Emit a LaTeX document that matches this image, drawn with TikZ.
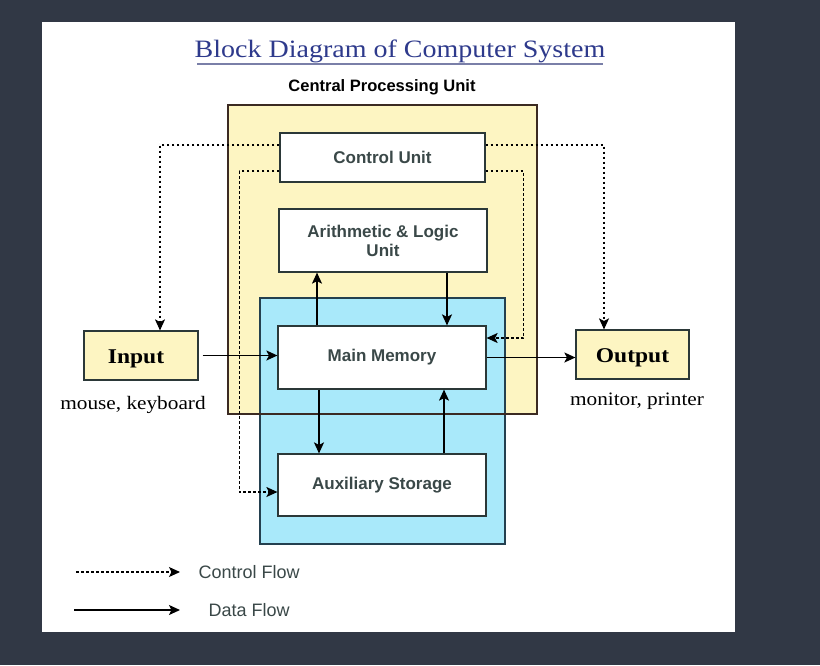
\documentclass[tikz,border=0pt]{standalone}
\usepackage{fontspec}
\setmainfont{Liberation Serif}[FakeStretch=1.12]
\setsansfont{Liberation Sans}
\usepackage{xcolor}
\usetikzlibrary{arrows.meta}

\definecolor{bgdark}{HTML}{313845}
\definecolor{titleblue}{HTML}{2E3A8C}
\definecolor{ruleblue}{HTML}{7A7FA8}
\definecolor{cpuyellow}{HTML}{FDF5C2}
\definecolor{cpuframe}{HTML}{3B2A22}
\definecolor{memblue}{HTML}{A9E9FA}
\definecolor{memframe}{HTML}{24404F}
\definecolor{boxframe}{HTML}{2B3838}
\definecolor{labelgray}{HTML}{3A4848}

\tikzset{
  unit/.style={draw=boxframe, line width=1.2pt, fill=white, inner sep=0pt,
    font=\sffamily\bfseries\fontsize{17}{19}\selectfont, text=labelgray, align=center},
  device/.style={draw=boxframe, line width=1.2pt, fill=cpuyellow, inner sep=0pt,
    font=\bfseries\fontsize{21}{24}\selectfont, text=black},
  ctrl/.style={line width=1.1pt, dash pattern=on 2.6pt off 2.4pt, -{Stealth[length=11pt,width=10pt,inset=2.5pt]}},
  data/.style={line width=1.3pt, -{Stealth[length=11pt,width=10pt,inset=2.5pt]}},
  note/.style={font=\fontsize{19}{22}\selectfont, text=black},
  legend/.style={font=\sffamily\fontsize{18}{21}\selectfont, text=labelgray, anchor=west}
}

\begin{document}
\begin{tikzpicture}[x=1pt, y=-1pt]
  \useasboundingbox (0,0) rectangle (820,665);
  \fill[bgdark] (0,0) rectangle (820,665);
  \fill[white] (42,22) rectangle (735,632);

  % title
  \node[font=\fontsize{25}{28}\selectfont, text=titleblue] (title) at (400,51) {Block Diagram of Computer System};
  \draw[ruleblue, line width=1.2pt] (197,64) -- (603,64);
  \node[font=\sffamily\bfseries\fontsize{16.5}{19}\selectfont] (cpulabel) at (382,87) {Central Processing Unit};

  % CPU and memory frames
  \fill[cpuyellow] (228,105) rectangle (537,414);
  \fill[memblue] (260,298) rectangle (505,544);
  \draw[memframe, line width=1.6pt] (260,298) rectangle (505,544);
  \draw[cpuframe, line width=1.8pt] (228,105) rectangle (537,414);

  % units
  \node[unit, minimum width=205pt, minimum height=49pt] (cu) at (382.5,157.5) {Control Unit};
  \node[unit, minimum width=208pt, minimum height=63pt] (alu) at (383,240.5) {Arithmetic \& Logic\\Unit};
  \node[unit, minimum width=208pt, minimum height=63pt] (mm) at (382,357.5) {Main Memory};
  \node[unit, minimum width=208pt, minimum height=62pt] (aux) at (382,485) {Auxiliary Storage};

  % input and output
  \node[device, minimum width=114pt, minimum height=49pt] (in) at (141,355.5) {\raisebox{-3pt}[\height][\depth]{\hspace*{-10pt}Input}};
  \node[device, minimum width=113pt, minimum height=49pt] (out) at (632.5,354.5) {\raisebox{-3pt}[\height][\depth]{Output}};
  \node[note] (inlabel) at (133,405) {mouse, keyboard};
  \node[note] (outlabel) at (637,401) {monitor, printer};

  % control flow
  \draw[ctrl] ([yshift=12.5pt]cu.west) -| ([xshift=19pt]in.north);
  \draw[ctrl] ([yshift=12.5pt]cu.east) -| ([xshift=-28.5pt]out.north);
  \draw[ctrl] ([yshift=-13.5pt]cu.west) -- ++(-40,0) |- ([yshift=-7pt]aux.west);
  \draw[ctrl] ([yshift=-13.5pt]cu.east) -- ++(38,0) |- ([yshift=19.5pt]mm.east);

  % data flow
  \draw[data] ([xshift=-65pt]mm.north) -- ([xshift=-65pt]mm.north |- alu.south);
  \draw[data] ([xshift=64pt]alu.south) -- ([xshift=64pt]alu.south |- mm.north);
  \draw[data] ([xshift=-63pt]mm.south) -- ([xshift=-63pt]mm.south |- aux.north);
  \draw[data] ([xshift=62pt]aux.north) -- ([xshift=62pt]aux.north |- mm.south);
  \draw[data] ([xshift=4pt]in.east) -- (in.east -| mm.west);
  \draw[data] (mm.east) -- (mm.east -| out.west);

  % legend
  \coordinate (ctlA) at (76,572);
  \coordinate (ctlB) at (180,572);
  \coordinate (datA) at (74,610);
  \coordinate (datB) at (180,610);
  \draw[ctrl] (ctlA) -- (ctlB);
  \draw[data] (datA) -- (datB);
  \node[legend] (ctllabel) at (195,572) {Control Flow};
  \node[legend] (datlabel) at (205,610) {Data Flow};
\end{tikzpicture}
\end{document}
